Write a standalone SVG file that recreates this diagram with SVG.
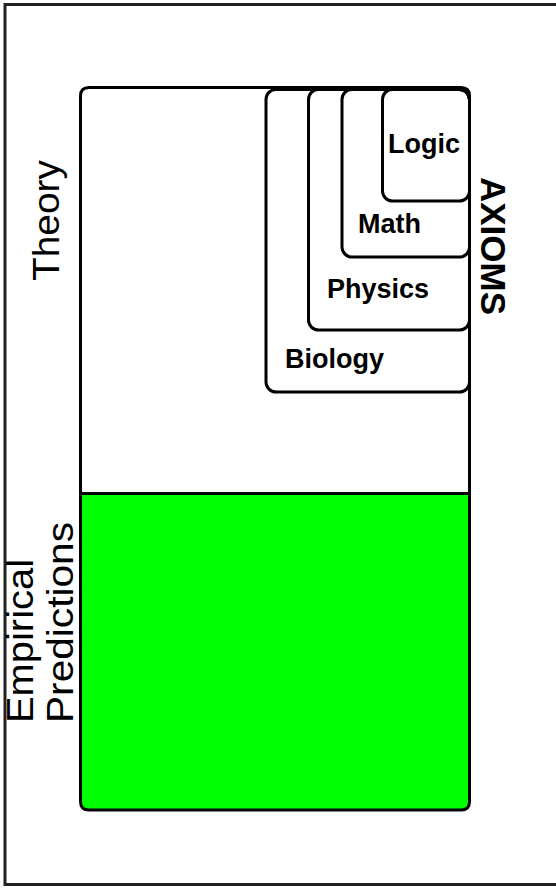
<svg xmlns="http://www.w3.org/2000/svg" width="556" height="888" viewBox="0 0 556 888">
<style>
.box{fill:none;stroke:#000;stroke-width:3}
.lbl{font-family:"Liberation Sans",Arial,sans-serif;font-weight:bold;font-size:27px;fill:#000}
.side{font-family:"Liberation Sans",Arial,sans-serif;font-size:36px;fill:#000}
</style>
<rect width="556" height="888" fill="#fff"/>
<g id="frame" fill="none" stroke="#222" stroke-width="3">
<path d="M556 4.5H5V884.5H556"/>
</g>
<g id="empirical">
<path d="M80.5 493.5H469.5V801.5Q469.5 810 461 810H89Q80.5 810 80.5 801.5Z" fill="#00ff00" stroke="#000" stroke-width="3"/>
</g>
<g id="theory">
<path d="M80.5 493.5V96Q80.5 87.5 89 87.5H461Q469.5 87.5 469.5 96V493.5" class="box"/>
</g>
<g id="biology">
<rect x="266" y="89.5" width="203.5" height="302.5" rx="10" class="box"/>
<text x="285" y="368" class="lbl">Biology</text>
</g>
<g id="physics">
<rect x="308.5" y="89.5" width="161" height="240.5" rx="10" class="box"/>
<text x="327" y="298" class="lbl">Physics</text>
</g>
<g id="math">
<rect x="342" y="89.5" width="127.5" height="167.5" rx="10" class="box"/>
<text x="358" y="233" class="lbl">Math</text>
</g>
<g id="logic">
<rect x="382.5" y="89.5" width="87" height="111.5" rx="10" class="box"/>
<text x="388" y="153" class="lbl">Logic</text>
</g>
<g id="connectors"></g>
<g id="labels">
<text class="side" transform="translate(59 281) rotate(-90)" textLength="121" lengthAdjust="spacingAndGlyphs">Theory</text>
<text class="side" transform="translate(33 723) rotate(-90)" textLength="164" lengthAdjust="spacingAndGlyphs">Empirical</text>
<text class="side" transform="translate(73 723) rotate(-90)" textLength="201" lengthAdjust="spacingAndGlyphs">Predictions</text>
<text class="lbl" style="font-size:35px" transform="translate(481 177) rotate(90)">AXIOMS</text>
</g>
</svg>
